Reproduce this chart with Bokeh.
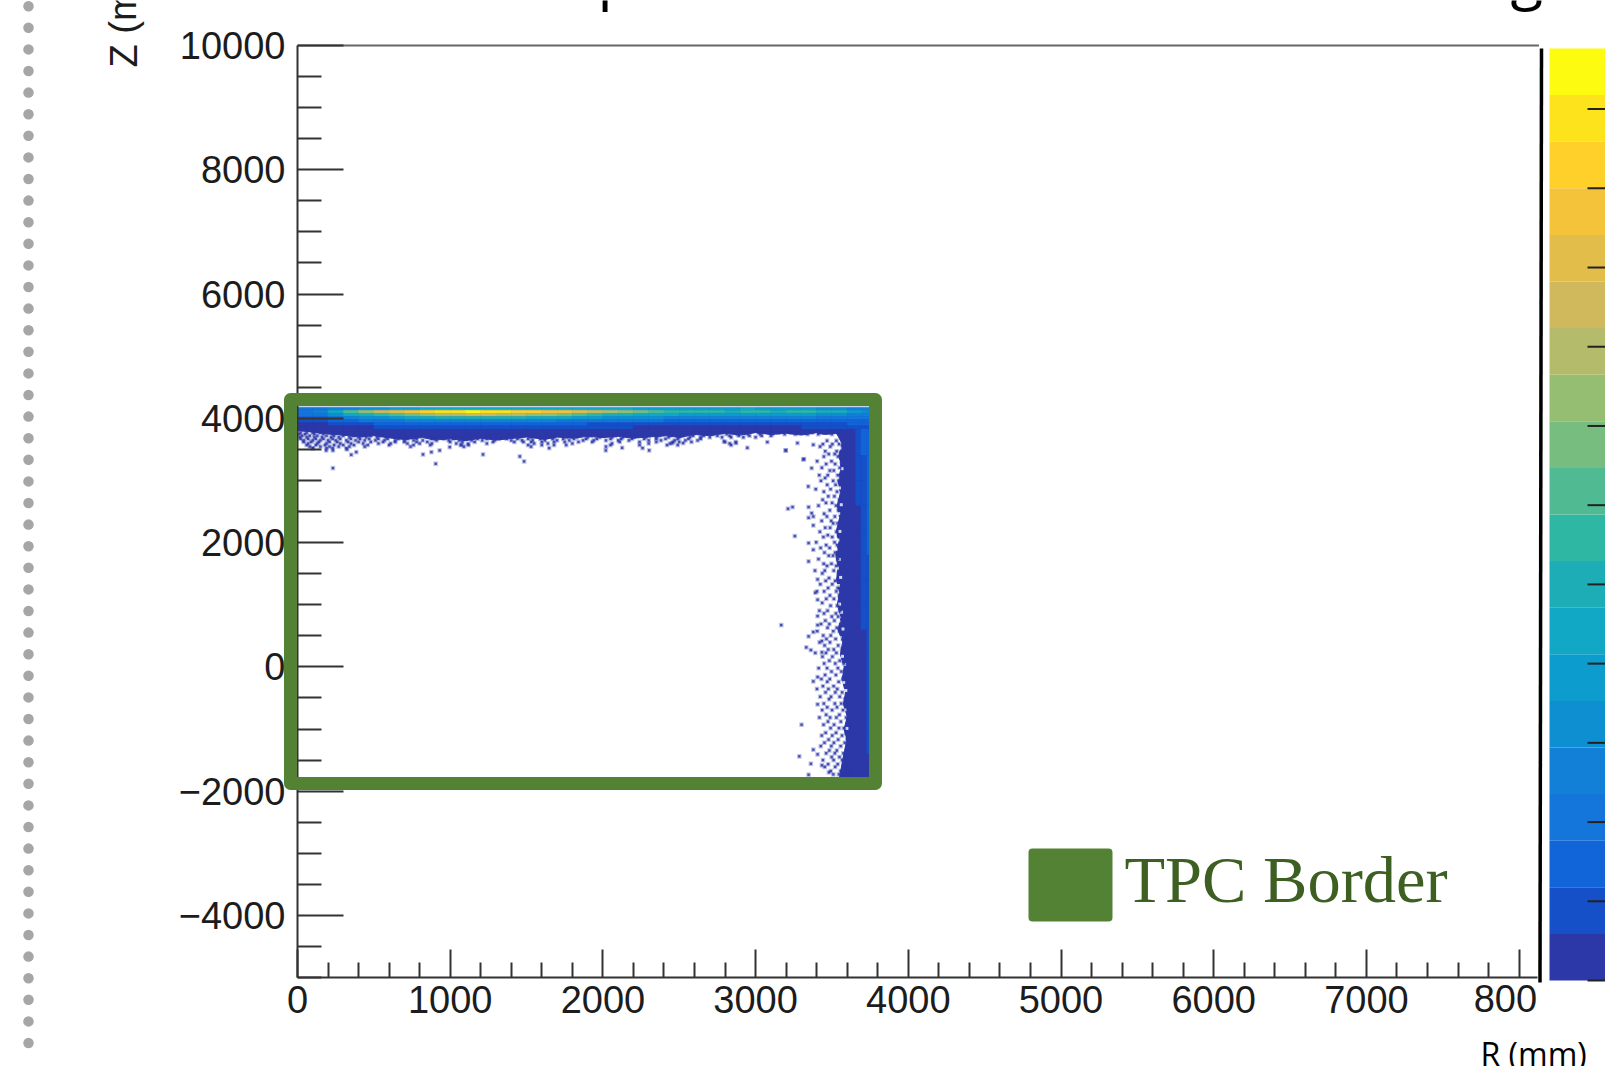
from bokeh.plotting import figure
from bokeh.models import Range1d, LinearAxis, FixedTicker, Label
from bokeh.core.properties import value
from bokeh.embed import file_html
from bokeh.resources import INLINE

# axis ticks
r_major = [0, 1000, 2000, 3000, 4000, 5000, 6000, 7000, 8000]
r_minor = [v for v in range(0, 8001, 200) if v % 1000]
z_major = [-4000, -2000, 0, 2000, 4000, 6000, 8000, 10000]
z_minor = [v for v in range(-5000, 10001, 500) if v % 2000]

# colour scale, lowest band first
band_colors = ["#2c38a8", "#1550c8", "#1264d9", "#1475da", "#1280d6", "#0d8fd2", "#0c9ccd", "#10a8c4",
               "#1cadb7", "#2eb8a4", "#50bb93", "#78bd80", "#96be72", "#b4bc6b", "#cfb95c", "#e3bd4a",
               "#f4c33a", "#ffd02a", "#fde31c", "#fdfb10"]
band_ticks = [0, 1.7, 3.4, 5.1, 6.8, 8.5, 10.2, 11.9, 13.6, 15.3, 17.0, 18.7]

# TPC border
tpc_r = [-46, 3785]
tpc_z = [-1876, 4303]

# endcap: colour level per Z row (top to bottom) and R column
endcap_r_edges = list(range(0, 3701, 100)) + [3750]
endcap_z_edges = [4180, 4130, 4080, 4030, 3980, 3930, 3880, 3830]
endcap_levels = [
    [3, 3, 4, 4, 5, 5, 6, 6, 7, 7, 7, 7, 7, 7, 7, 7, 7, 7, 7, 7, 7, 7, 6, 6, 6, 6, 6, 6, 6, 7, 6, 6, 6, 6, 5, 5, 4, 4],
    [3, 4, 7, 10, 12, 14, 15, 16, 17, 18, 18, 19, 18, 18, 17, 17, 16, 16, 15, 14, 13, 12, 11, 10, 9, 9, 9, 9, 8, 9, 9, 8, 9, 9, 8, 8, 6, 5],
    [3, 3, 5, 7, 8, 9, 10, 11, 12, 13, 13, 14, 14, 13, 13, 12, 12, 11, 10, 9, 8, 8, 7, 7, 7, 6, 6, 6, 6, 6, 6, 6, 6, 6, 5, 5, 4, 4],
    [2, 2, 3, 4, 5, 5, 6, 7, 7, 8, 8, 8, 8, 8, 8, 7, 7, 7, 6, 6, 5, 5, 5, 5, 4, 4, 4, 4, 4, 4, 4, 4, 4, 4, 3, 3, 3, 3],
    [1, 1, 2, 2, 3, 3, 3, 4, 4, 4, 4, 4, 4, 4, 4, 4, 4, 3, 3, 3, 3, 3, 3, 3, 2, 2, 2, 2, 2, 2, 2, 2, 2, 2, 2, 2, 2, 2],
    [0, 0, 1, 1, 1, 2, 2, 2, 2, 2, 2, 2, 2, 2, 2, 2, 2, 2, 2, 1, 1, 1, 1, 1, 1, 1, 1, 1, 1, 1, 1, 1, 1, 1, 1, 1, 2, 2],
    [0, 0, 0, 0, 0, 1, 1, 1, 1, 1, 1, 1, 1, 1, 1, 1, 1, 1, 1, 1, 1, 1, 0, 0, 0, 0, 0, 0, 0, 0, 0, 0, 0, 1, 1, 1, 1, 1],
]

# barrel: colour level per Z row and R column
barrel_r_edges = [3620, 3655, 3690, 3728, 3750]
barrel_z_edges = [3830, 3400, 3000, 2600, 2200, 1800, 1400, 1000, 600, 200, -200, -600, -1000, -1400, -1780]
barrel_levels = [
    [0, 1, 2, 2], [0, 1, 1, 2], [0, 1, 1, 2], [0, 0, 1, 2], [0, 0, 1, 2], [0, 0, 1, 1], [0, 0, 1, 1],
    [0, 0, 1, 1], [0, 0, 0, 1], [0, 0, 0, 1], [0, 0, 0, 1], [0, 0, 0, 1], [0, 0, 0, 1], [0, 0, 0, 0],
]

# outline of the densely filled region
dense_r = [0, 60, 120, 200, 300, 400, 500, 620, 700, 820, 900, 1000, 1100, 1200, 1300, 1420, 1500, 1620, 1700, 1800,
           1900, 2000, 2100, 2200, 2300, 2420, 2500, 2600, 2700, 2800, 2900, 3000, 3100, 3200, 3300, 3400, 3450, 3530,
           3565, 3545, 3560, 3540, 3555, 3535, 3550, 3530, 3545, 3525, 3540, 3530, 3550, 3535, 3560, 3540, 3570,
           3555, 3580, 3565, 3590, 3575, 3600, 3580, 3595, 3570, 3550, 3750, 3750, 0]
dense_z = [3800, 3790, 3770, 3750, 3730, 3700, 3720, 3680, 3660, 3690, 3650, 3670, 3640, 3680, 3650, 3680, 3700, 3660,
           3700, 3680, 3710, 3690, 3710, 3680, 3700, 3720, 3690, 3740, 3720, 3760, 3730, 3770, 3740, 3760, 3730, 3770,
           3740, 3760, 3600, 3400, 3200, 3000, 2800, 2600, 2400, 2200, 2000, 1800, 1600, 1400, 1200, 1000, 800, 600, 400,
           200, 0, -200, -400, -600, -800, -1000, -1200, -1500, -1780, -1780, 4180, 4180]

# pale gaps among the densely filled bins
gap_r = [3552, 3541, 3566, 3538, 3549, 3533, 3561, 3544, 3530, 3552, 3539, 3527, 3548, 3536, 3557, 3542, 3531, 3550,
         3563, 3545, 3572, 3555, 3548, 3569, 3583, 3560, 3577, 3591, 3568, 3585, 3574, 3598, 3580, 3567, 3555]
gap_z = [3520, 3310, 3190, 3040, 2880, 2730, 2610, 2470, 2310, 2180, 2040, 1890, 1730, 1590, 1440, 1310, 1170, 1010,
         880, 730, 610, 470, 330, 170, 40, -110, -250, -380, -520, -690, -830, -990, -1130, -1290, -1470]

# sparse hits below the endcap
top_rows_z = [3770, 3745, 3720, 3695, 3670, 3645, 3620, 3595, 3570, 3545, 3520]
top_rows_r = [
    [20, 60, 100, 150, 210, 260, 310, 380, 430, 500, 2650, 2710, 2780, 2860, 2930, 3020, 3090, 3150, 3230, 3300, 3370, 3420, 3480],
    [10, 50, 110, 170, 230, 290, 350, 420, 470, 550, 2520, 2590, 2650, 2720, 2810, 2880, 2950, 3030, 3110, 3190, 3260, 3340, 3410, 3500],
    [30, 80, 130, 190, 240, 300, 370, 420, 480, 540, 620, 690, 760, 1130, 1190, 1250, 1330, 1400, 1480, 1560, 1640, 1700, 1790, 1850, 1920, 2000, 2080, 2140, 2220, 2300, 2370, 2440, 2520, 2590, 2660, 2750, 2830, 2890, 2960, 3040, 3100],
    [15, 60, 110, 160, 220, 270, 340, 400, 450, 520, 580, 650, 740, 1050, 1220, 1290, 1360, 1450, 1530, 1610, 1680, 1760, 1830, 1900, 1980, 2060, 2130, 2200, 2280, 2350, 2430, 2500, 2570, 2640, 2700, 2780, 2840, 2920, 3000],
    [20, 70, 120, 170, 230, 280, 350, 410, 470, 530, 590, 660, 720, 780, 880, 960, 1020, 1090, 1180, 1240, 1320, 1370, 1440, 1510, 1590, 1670, 1740, 1810, 1890, 1960, 2050, 2120, 2190, 2270, 2350, 2410, 2490, 2560, 2640],
    [40, 100, 150, 200, 250, 320, 380, 440, 510, 570, 640, 700, 760, 820, 910, 990, 1060, 1140, 1210, 1290, 1400, 1470, 1540, 1620, 1700, 1780, 1870, 1940, 2020, 2100, 2170, 2300, 2380, 2470, 2540, 2620],
    [40, 90, 140, 210, 260, 330, 400, 480, 560, 640, 700, 780, 850, 1000, 1080, 1160, 1280, 1420, 1480, 1530, 1600, 1680, 1750, 1840, 1930, 2110, 2240, 2350, 2460, 2500, 2580, 2800, 2870],
    [70, 130, 190, 280, 350, 430, 530, 610, 720, 800, 880, 1040, 1240, 1550, 1640, 1800, 2060, 2300, 2440, 2830],
    [60, 120, 180, 240, 300, 370, 460, 600, 760, 870, 1070, 1120, 1510, 1600, 1680, 1760, 2050, 2240, 2420, 2490, 2840],
    [80, 150, 210, 270, 340, 440, 740, 1090, 1530, 2020],
    [100, 190, 230, 320],
]

# sparse hits inside the barrel edge
right_rows_z = [3640, 3585, 3545, 3470, 3425, 3385, 3310, 3265, 3205, 3160, 3085, 3040, 2995, 2930, 2860, 2820, 2745, 2690,
                2640, 2595, 2520, 2465, 2420, 2350, 2310, 2240, 2175, 2120, 2090, 2005, 1960, 1915, 1840, 1790, 1735, 1660,
                1625, 1550, 1505, 1430, 1385, 1330, 1270, 1215, 1150, 1095, 1030, 985, 905, 860, 810, 745, 690, 630, 575,
                505, 450, 395, 345, 280, 225, 165, 100, 55, -20, -75, -130, -195, -240, -310, -355, -410, -480, -520, -590,
                -650, -695, -770, -815, -880, -930, -985, -1060, -1105, -1170, -1220, -1275, -1345, -1390, -1450, -1500,
                -1565, -1610, -1675, -1730]
right_rows_r = [
    [3468, 3529], [3441, 3503, 3547], [3422, 3489], [3456, 3531], [3479, 3518], [3447, 3540], [3403, 3497], [3462, 3521],
    [3434, 3551], [3486, 3512], [3417, 3473, 3538], [3455], [3428, 3508, 3545], [3469, 3524], [3394, 3491], [3447, 3533],
    [3476, 3516], [3439, 3549], [3461, 3501], [3412, 3527], [3486, 3542], [3449], [3378, 3467, 3519], [3433, 3495],
    [3508, 3537], [3456, 3488], [3421, 3529], [3473, 3543], [3444, 3502], [3397, 3517], [3462, 3534], [3426, 3485, 3551],
    [3451, 3521], [3479, 3507], [3412, 3539], [3446, 3497], [3468, 3528], [3389, 3453, 3512], [3437, 3544], [3481],
    [3459, 3521], [3424, 3502], [3475, 3538], [3402, 3449, 3529], [3487, 3548], [3463, 3513], [3436], [3491, 3535],
    [3418, 3471, 3552], [3448, 3526], [3499, 3541], [3457, 3516], [3429, 3483, 3560], [3471, 3532], [3404, 3509, 3549],
    [3443, 3492], [3464, 3524, 3571], [3419, 3487], [3452, 3541], [3476, 3512, 3566], [3391, 3461, 3529], [3438, 3503],
    [3483, 3551], [3449, 3522, 3578], [3413, 3468, 3539], [3497, 3562], [3455, 3526], [3431, 3486, 3573], [3469, 3544],
    [3441, 3511, 3589], [3402, 3477, 3535], [3458, 3522, 3567], [3423, 3494, 3551], [3481, 3585], [3447, 3519, 3561],
    [3469, 3533, 3601], [3436, 3501, 3572], [3462, 3549], [3418, 3488, 3529, 3593], [3474, 3558], [3445, 3514, 3611],
    [3491, 3546, 3578], [3459, 3527, 3599], [3433, 3502, 3566], [3478, 3541, 3620], [3451, 3513, 3584], [3427, 3496, 3557],
    [3483, 3532, 3606], [3462, 3519, 3575], [3498, 3549, 3591], [3441, 3511, 3567], [3475, 3538, 3601], [3453, 3521, 3583],
    [3492, 3557, 3628], [3509, 3546, 3598],
]

# isolated hits
lone_r = [101, 188, 232, 324, 352, 385, 822, 905, 232, 877, 931, 997, 1073, 1215, 1117, 1456, 1484, 1648, 2019, 2126,
          2260, 2303, 2454, 2526, 2793, 2872, 2946, 3077, 3197, 3274, 3317, 3378, 3542, 3537, 3198, 3312, 3367, 3345,
          3212, 3242, 3347, 3367, 3347, 3378, 3257, 3347, 3378, 3347, 3406, 3391, 3406, 3406, 3168, 3406, 3378, 3347,
          3332, 3362, 3434, 3434, 3378, 3406, 3406, 3301, 3378, 3406, 3286, 3362, 3434, 3347, 3480]
lone_z = [3521, 3484, 3484, 3500, 3414, 3457, 3419, 3269, 3199, 3457, 3484, 3537, 3575, 3419, 3591, 3387, 3307, 3521,
          3484, 3526, 3521, 3484, 3602, 3602, 3628, 3602, 3526, 3618, 3484, 3602, 3344, 3575, 3778, 3779, 3484, 3339,
          3199, 2904, 2545, 2572, 2572, 2475, 2400, 2277, 2105, 1993, 1885, 1698, 1408, 1194, 1081, 818, 673, 673,
          561, 491, 314, 271, 416, 234, -233, -163, -603, -930, -1332, -1408, -1440, -1558, -1584, -1735, -1697]

# ---- page geometry: the frame fills the whole canvas, so that marks can sit anywhere
R_PER_PX = 1 / 0.1527
Z_PER_PX = 1 / 0.06214
def rx(px):
    return (px - 297) * R_PER_PX
def zy(py):
    return 10000 - (py - 45) * Z_PER_PX
def lv(py):
    return (980 - py) / 46.6

p = figure(width=1605, height=1066, output_backend="svg", toolbar_location=None,
           x_range=Range1d(rx(0), rx(1605)), y_range=Range1d(zy(1066), zy(0)),
           x_axis_type=None, y_axis_type=None, min_border=0, outline_line_color=None,
           background_fill_color="white", border_fill_color="white")
p.xgrid.visible = False
p.ygrid.visible = False
p.extra_y_ranges = {"level": Range1d(lv(1066), lv(0))}

FONT = "Liberation Sans"
TXT = "#1c1c1c"

# slide bullets
dot_z = [zy(5.7 + 21.6 * i) for i in range(49)]
p.scatter([rx(28)] * len(dot_z), dot_z, marker="circle", size=10.5, color="#a6a6a6", line_color=None)

# heat map
xl, xr, yb, yt, col = [], [], [], [], []
for i, row in enumerate(endcap_levels):
    for j, lev in enumerate(row):
        xl.append(endcap_r_edges[j]); xr.append(endcap_r_edges[j + 1])
        yt.append(endcap_z_edges[i]); yb.append(endcap_z_edges[i + 1])
        col.append(band_colors[lev])
p.patch(dense_r, dense_z, fill_color=band_colors[0], line_color=band_colors[0], line_width=1)
for i, row in enumerate(barrel_levels):
    for j, lev in enumerate(row):
        if lev:
            xl.append(barrel_r_edges[j]); xr.append(barrel_r_edges[j + 1])
            yt.append(barrel_z_edges[i]); yb.append(barrel_z_edges[i + 1])
            col.append(band_colors[lev])
p.quad(left=xl, right=xr, bottom=yb, top=yt, fill_color=col, line_color=col, line_width=0.5)
p.segment([0], [4195], [3750], [4195], line_color="#c4d8ee", line_width=2)
p.scatter(gap_r, gap_z, marker="square", size=3, color="#ffffff", line_color=None, alpha=0.8)

hit_r, hit_z = list(lone_r), list(lone_z)
for z, rs in list(zip(top_rows_z, top_rows_r)) + list(zip(right_rows_z, right_rows_r)):
    hit_r += rs
    hit_z += [z] * len(rs)
p.scatter(hit_r, hit_z, marker="square", size=4.6, color="#2c38a8", line_color=None, alpha=0.3)
p.scatter(hit_r, hit_z, marker="square", size=2.4, color="#2c38a8", line_color=None, alpha=0.85)

# axes
xax = LinearAxis(fixed_location=-5000, ticker=FixedTicker(ticks=r_major, minor_ticks=r_minor), bounds=(0, 8120))
yax = LinearAxis(fixed_location=0, ticker=FixedTicker(ticks=z_major, minor_ticks=z_minor), bounds=(-5000, 10000))
xax.major_label_overrides = {8000: " "}
yax.major_label_overrides = {-4000: "\u22124000", -2000: "\u22122000"}
for ax in (xax, yax):
    ax.axis_line_color = "#333333"
    ax.axis_line_width = 2
    ax.major_tick_line_color = "#333333"
    ax.minor_tick_line_color = "#333333"
    ax.major_tick_line_width = 2
    ax.minor_tick_line_width = 2
    ax.major_tick_out = 0
    ax.minor_tick_out = 0
    ax.major_label_text_font = FONT
    ax.major_label_text_font_size = "38px"
    ax.major_label_text_color = TXT
xax.major_tick_in = 28
xax.minor_tick_in = 15
xax.major_label_standoff = 1
yax.major_tick_in = 46
yax.minor_tick_in = 24
yax.major_label_standoff = 12
p.add_layout(xax, "below")
p.add_layout(yax, "left")
p.segment([0], [10000], [8130], [10000], line_color="#666666", line_width=2)
p.text([8000], [zy(998)], text=["800"], text_font=value(FONT), text_font_size="38px", text_color=TXT,
       text_align="right", text_baseline="middle", x_offset=18)

# frame line beside the scale
p.segment([rx(1541)], [zy(48)], [rx(1539.5)], [zy(982)], line_color="#000000", line_width=3.5)

# colour scale
lev_idx = list(range(len(band_colors)))
p.quad(left=rx(1549), right=rx(1606), bottom=lev_idx, top=[v + 1 for v in lev_idx], fill_color=band_colors,
       line_color=None, y_range_name="level")
p.segment([rx(1587)] * len(band_ticks), band_ticks, [rx(1606)] * len(band_ticks), band_ticks,
          line_color="#222222", line_width=2, y_range_name="level")

# TPC border and its key
p.quad(left=[tpc_r[0]], right=[tpc_r[1]], bottom=[tpc_z[0]], top=[tpc_z[1]], fill_color=None,
       line_color="#548235", line_width=13, line_join="round", level="overlay")
p.quad(left=[rx(1032)], right=[rx(1108)], bottom=[zy(917)], top=[zy(852)], fill_color="#548235",
       line_color="#548235", line_width=8, line_join="round")
p.text([rx(1124)], [zy(879)], text=["TPC Border"], text_font=value("Liberation Serif"), text_font_size="66.5px",
       text_color="#3d5f22", text_baseline="middle")
p.text([rx(1480)], [zy(1053)], text=["R (mm)"], text_font=value("Open Sans"), text_font_size="32px",
       text_color="#000000", text_baseline="middle")

# cut-off texts at the top of the slide
p.add_layout(Label(x=rx(123), y=zy(67), x_units="data", y_units="data", text="Z (mm)", angle=1.5708,
                   text_font=FONT, text_font_size="38px", text_color=TXT, text_baseline="middle"))
for t, px in [("p", 597), ("g", 1510)]:
    p.add_layout(Label(x=rx(px), y=zy(-26), x_units="data", y_units="data", text=t, text_font="Open Sans",
                       text_font_size="60px", text_color="#000000", text_baseline="middle"))

open("out.html", "w").write(file_html(p, INLINE))
